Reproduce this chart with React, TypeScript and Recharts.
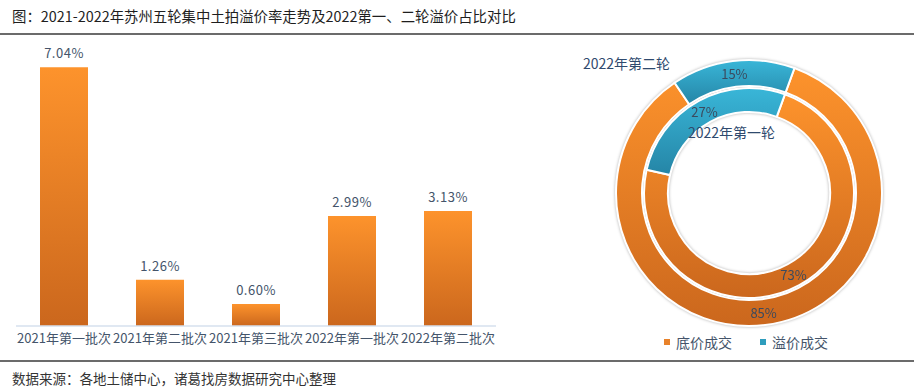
import { BarChart, Bar, XAxis, YAxis, LabelList, PieChart, Pie, Cell } from "recharts";

const batches = ["2021年第一批次", "2021年第二批次", "2021年第三批次", "2022年第一批次", "2022年第二批次"];
const premiumRates = [7.04, 1.26, 0.6, 2.99, 3.13];

const dealTypes = ["底价成交", "溢价成交"];
const round1Shares = [73, 27];
const round2Shares = [85, 15];

const barData = batches.map((b, i) => ({ batch: b, rate: premiumRates[i] }));
const round1 = dealTypes.map((t, i) => ({ name: t, value: round1Shares[i] }));
const round2 = dealTypes.map((t, i) => ({ name: t, value: round2Shares[i] }));

const CJK = '"Noto Sans CJK SC", "Noto Sans", sans-serif';
const TEXT = "#44546A";
const fills = ["url(#gOrangeP)", "url(#gTealP)"];
const swatch = ["#E8822A", "#2E9DBD"];

const RAD = Math.PI / 180;
const sliceLabel = (p: any) => {
  const r = (p.innerRadius + p.outerRadius) / 2;
  const x = p.cx + r * Math.cos(-p.midAngle * RAD);
  const y = p.cy + r * Math.sin(-p.midAngle * RAD);
  return (
    <text x={x} y={y} textAnchor="middle" dominantBaseline="central" fontSize={13} fill="#3B4A5E" fontFamily={CJK}>
      {`${p.value}%`}
    </text>
  );
};

export default function App() {
  return (
    <div style={{ position: "absolute", left: 0, top: 0, width: 920, height: 392, background: "#fff", fontFamily: CJK, overflow: "hidden" }}>
      <div style={{ position: "absolute", left: 12, top: 5, fontSize: 14.4, color: "#1e1e1e", whiteSpace: "nowrap" }}>
        图：2021-2022年苏州五轮集中土拍溢价率走势及2022第一、二轮溢价占比对比
      </div>
      <div style={{ position: "absolute", left: 0, top: 33, width: 914, height: 2, background: "#6b6b6b" }} />

      <div style={{ position: "absolute", left: 0, top: 0 }}>
        <BarChart width={512} height={360} data={barData} margin={{ top: 32, right: 16, bottom: 0, left: 16 }}>
          <defs>
            <linearGradient id="gOrange" x1="0" y1="0" x2="0" y2="1">
              <stop offset="0%" stopColor="#FD932C" />
              <stop offset="100%" stopColor="#CB671D" />
            </linearGradient>
          </defs>
          <XAxis
            dataKey="batch"
            height={34}
            tickLine={false}
            tickSize={0}
            tickMargin={8}
            axisLine={{ stroke: "#D6E0EE", strokeWidth: 1.5 }}
            tick={{ fontSize: 13, fill: TEXT, fontFamily: CJK }}
            interval={0}
          />
          <YAxis hide domain={[0, 8]} />
          <Bar dataKey="rate" barSize={48} fill="url(#gOrange)" isAnimationActive={false}>
            <LabelList
              dataKey="rate"
              position="top"
              offset={9}
              formatter={(v: any) => `${Number(v).toFixed(2)}%`}
              style={{ fontSize: 13, fill: TEXT, fontFamily: CJK, letterSpacing: 0.5 }}
            />
          </Bar>
        </BarChart>
      </div>

      <div style={{ position: "absolute", left: 560, top: 30, filter: "drop-shadow(0 0 1.5px rgba(0,0,0,0.3))" }}>
        <PieChart width={360} height={300}>
          <defs>
            <linearGradient id="gOrangeP" x1="0" y1="0" x2="0" y2="1">
              <stop offset="0%" stopColor="#FD932C" />
              <stop offset="100%" stopColor="#CB671D" />
            </linearGradient>
            <linearGradient id="gTealP" x1="0" y1="0" x2="0" y2="1">
              <stop offset="0%" stopColor="#39B6D8" />
              <stop offset="100%" stopColor="#2585A6" />
            </linearGradient>
          </defs>
          <Pie
            data={round2}
            dataKey="value"
            cx={184}
            cy={158}
            innerRadius={107}
            outerRadius={133}
            startAngle={70}
            endAngle={-290}
            stroke="#fff"
            strokeWidth={2}
            label={sliceLabel}
            labelLine={false}
            isAnimationActive={false}
          >
            {round2.map((d, i) => (
              <Cell key={d.name} fill={fills[i]} />
            ))}
          </Pie>
          <Pie
            data={round1}
            dataKey="value"
            cx={184}
            cy={158}
            innerRadius={81}
            outerRadius={105}
            startAngle={70}
            endAngle={-290}
            stroke="#fff"
            strokeWidth={2}
            label={sliceLabel}
            labelLine={false}
            isAnimationActive={false}
          >
            {round1.map((d, i) => (
              <Cell key={d.name} fill={fills[i]} />
            ))}
          </Pie>
        </PieChart>
      </div>

      <div style={{ position: "absolute", left: 583, top: 53, fontSize: 14, color: "#2F4A6E", whiteSpace: "nowrap" }}>2022年第二轮</div>
      <div style={{ position: "absolute", left: 688, top: 122, fontSize: 14, color: "#2F4A6E", whiteSpace: "nowrap" }}>2022年第一轮</div>

      <div style={{ position: "absolute", left: 664, top: 332, display: "flex", gap: 28, fontSize: 14, color: TEXT }}>
        {dealTypes.map((t, i) => (
          <div key={t} style={{ display: "flex", alignItems: "center", gap: 6 }}>
            <span style={{ width: 6, height: 6, background: swatch[i], display: "inline-block" }} />
            <span>{t}</span>
          </div>
        ))}
      </div>

      <div style={{ position: "absolute", left: 0, top: 360, width: 914, height: 2, background: "#6b6b6b" }} />
      <div style={{ position: "absolute", left: 12, top: 368, fontSize: 13.5, color: "#333", whiteSpace: "nowrap" }}>
        数据来源：各地土储中心，诸葛找房数据研究中心整理
      </div>
    </div>
  );
}
